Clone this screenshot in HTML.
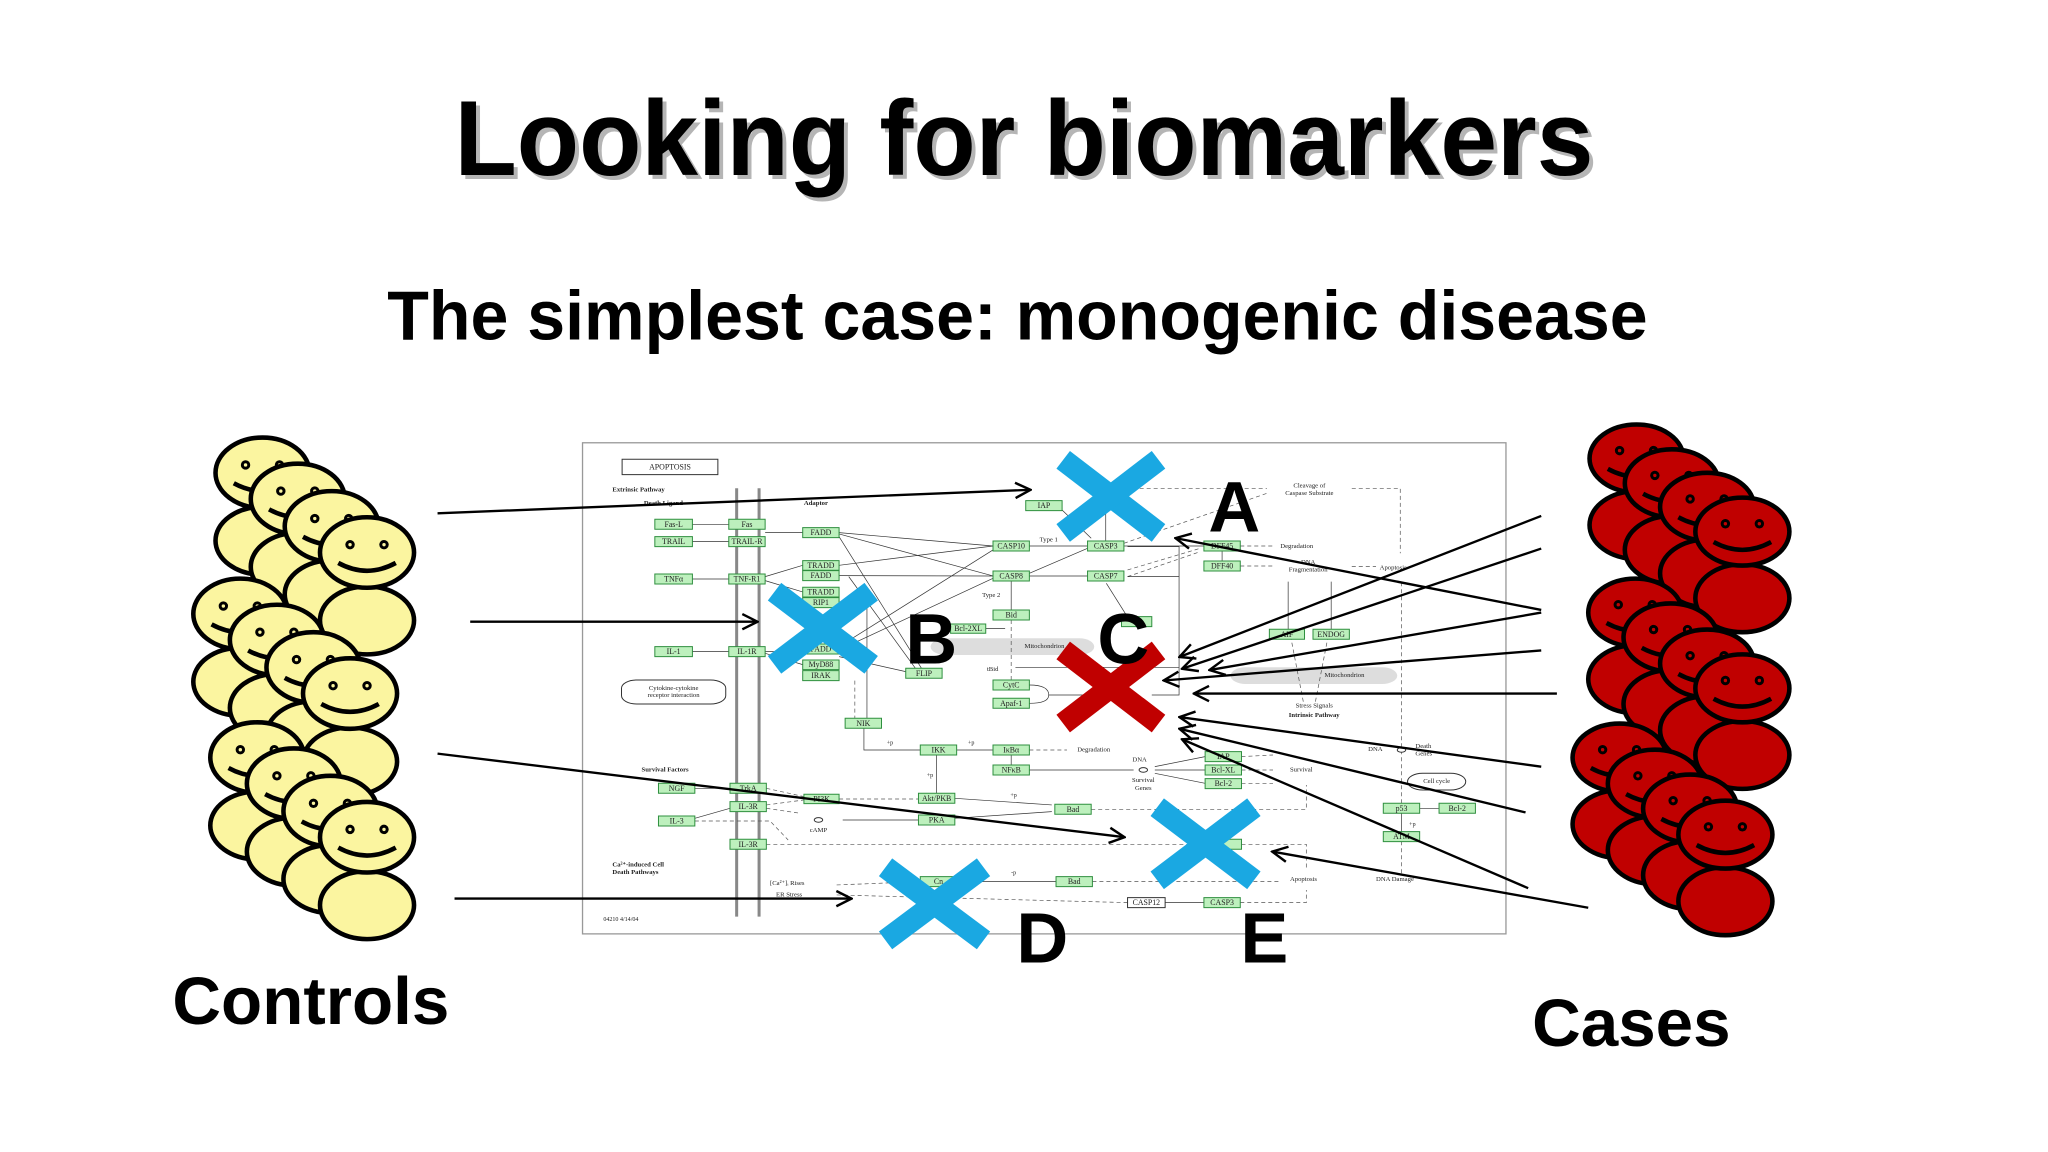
<!DOCTYPE html>
<html><head><meta charset="utf-8"><style>
html,body{margin:0;padding:0;background:#fff;}
svg{display:block;}
.t{font-family:"Liberation Sans",Arial,sans-serif;font-weight:bold;}
.pw rect.n{fill:#bdf0bd;stroke:#2f8f3f;stroke-width:1;vector-effect:non-scaling-stroke;}
.pw text{font-family:"Liberation Serif",serif;font-size:13px;text-anchor:middle;dominant-baseline:central;fill:#222;}
.pw text.l{text-anchor:start;}
.pw text.b{font-weight:bold;}
.pw line,.pw path.e,.pw polyline{stroke:#333;stroke-width:0.7;fill:none;vector-effect:non-scaling-stroke;}
.pw .d{stroke-dasharray:4 3;stroke:#555;}
</style></head><body>
<svg width="2048" height="1152" viewBox="0 0 1568 882" xmlns="http://www.w3.org/2000/svg">
<defs>
<marker id="ah" viewBox="0 0 12 12" refX="11" refY="6" markerWidth="14" markerHeight="14" markerUnits="userSpaceOnUse" orient="auto">
<path d="M1,1 L11,6 L1,11" fill="none" stroke="#000" stroke-width="1.6"/>
</marker>
</defs>
<rect width="1568" height="882" fill="#fff"/>
<!-- Titles -->
<text class="t" x="787" y="137" font-size="82" fill="#b5b5b5" text-anchor="middle" textLength="872" lengthAdjust="spacingAndGlyphs">Looking for biomarkers</text>
<text class="t" x="784" y="134" font-size="82" fill="#000" text-anchor="middle" textLength="872" lengthAdjust="spacingAndGlyphs">Looking for biomarkers</text>
<text class="t" x="779" y="260" font-size="53" fill="#000" text-anchor="middle" textLength="965" lengthAdjust="spacingAndGlyphs">The simplest case: monogenic disease</text>
<text class="t" x="238" y="784" font-size="51" fill="#000" text-anchor="middle" textLength="212" lengthAdjust="spacingAndGlyphs">Controls</text>
<text class="t" x="1249" y="801" font-size="51" fill="#000" text-anchor="middle" textLength="152" lengthAdjust="spacingAndGlyphs">Cases</text>

<!-- Pathway box -->
<rect x="446" y="339" width="707" height="376" fill="#fff" stroke="#999" stroke-width="1"/>
<g class="pw" transform="translate(436.4,329.2) scale(0.464,0.2552)">
 <!-- membranes -->
 <line x1="275" y1="175" x2="275" y2="1460" style="stroke:#888;stroke-width:3"/>
 <line x1="312" y1="175" x2="312" y2="1460" style="stroke:#888;stroke-width:3"/>
 <!-- mitochondrion pills -->
 <rect x="595" y="625" width="270" height="50" rx="25" ry="25" fill="#ddd"/>
 <rect x="1090" y="712" width="275" height="50" rx="25" ry="25" fill="#ddd"/>
 <!-- edges -->
 <line x1="202" y1="283" x2="262" y2="283"/><line x1="202" y1="335" x2="262" y2="335"/>
 <line x1="202" y1="447" x2="262" y2="447"/><line x1="202" y1="665" x2="262" y2="665"/>
 <line x1="322" y1="308" x2="384" y2="308"/><line x1="322" y1="440" x2="384" y2="406"/>
 <line x1="322" y1="452" x2="384" y2="486"/><line x1="322" y1="665" x2="384" y2="665"/>
 <line x1="322" y1="670" x2="384" y2="704"/>
 <line x1="444" y1="308" x2="698" y2="348"/><line x1="444" y1="312" x2="698" y2="438"/>
 <line x1="444" y1="406" x2="698" y2="348"/><line x1="444" y1="437" x2="698" y2="438"/>
 <line x1="444" y1="650" x2="698" y2="360"/><line x1="444" y1="660" x2="698" y2="445"/>
 <line x1="444" y1="320" x2="580" y2="715"/><line x1="460" y1="440" x2="570" y2="715"/>
 <line x1="444" y1="680" x2="554" y2="725"/>
 <line x1="758" y1="348" x2="854" y2="348"/><line x1="758" y1="438" x2="854" y2="438"/>
 <line x1="758" y1="430" x2="854" y2="355"/><line x1="728" y1="453" x2="728" y2="540"/>
 <line class="d" x1="728" y1="570" x2="728" y2="750"/><line x1="1005" y1="712" x2="735" y2="712"/>
 <line x1="686" y1="596" x2="718" y2="596"/>
 <path class="e" d="M758,765 Q790,765 790,795 Q790,820 758,820 M790,795 L860,795"/>
 <line x1="914" y1="348" x2="1046" y2="348"/><line x1="812" y1="240" x2="860" y2="325"/>
 <line x1="884" y1="333" x2="884" y2="200"/>
 <line class="d" x1="940" y1="175" x2="1150" y2="175"/><line class="d" x1="914" y1="340" x2="1150" y2="190"/>
 <line class="d" x1="920" y1="420" x2="1040" y2="355"/><line class="d" x1="920" y1="440" x2="1040" y2="365"/>
 <line class="d" x1="1106" y1="348" x2="1160" y2="348"/><line class="d" x1="1106" y1="408" x2="1160" y2="408"/>
 <line class="d" x1="1290" y1="410" x2="1330" y2="410"/>
 <polyline class="d" points="1290,175 1370,175 1370,370"/>
 <polyline points="920,350 1005,350 1005,795 960,795"/>
 <polyline points="920,440 1005,440"/>
 <line x1="1185" y1="598" x2="1185" y2="455"/><line x1="1256" y1="598" x2="1256" y2="455"/>
 <line x1="1076" y1="363" x2="1076" y2="393"/>
 <line class="d" x1="1210" y1="815" x2="1190" y2="628"/><line class="d" x1="1230" y1="815" x2="1250" y2="628"/>
 <line x1="885" y1="460" x2="930" y2="590"/>
 <line class="d" x1="470" y1="752" x2="470" y2="865"/><line x1="490" y1="500" x2="490" y2="865"/>
 <polyline points="485,895 485,960 578,960"/>
 <line x1="638" y1="960" x2="698" y2="960"/><line class="d" x1="758" y1="960" x2="820" y2="960"/>
 <line x1="728" y1="975" x2="728" y2="1005"/>
 <line x1="758" y1="1020" x2="930" y2="1020"/>
 <line x1="965" y1="1010" x2="1048" y2="980"/><line x1="965" y1="1020" x2="1048" y2="1020"/>
 <line x1="965" y1="1030" x2="1048" y2="1060"/>
 <line class="d" x1="1108" y1="980" x2="1160" y2="975"/><line class="d" x1="1108" y1="1020" x2="1160" y2="1020"/>
 <line class="d" x1="1108" y1="1060" x2="1160" y2="1060"/>
 <line x1="605" y1="1090" x2="605" y2="975"/><line class="d" x1="444" y1="1107" x2="575" y2="1107"/>
 <line x1="635" y1="1105" x2="795" y2="1125"/><line x1="635" y1="1165" x2="795" y2="1145"/>
 <polyline class="d" points="860,1138 1215,1138 1215,1065"/>
 <line class="d" x1="324" y1="1243" x2="1060" y2="1243"/>
 <polyline class="d" points="1108,1243 1215,1243 1215,1320"/>
 <line x1="638" y1="1355" x2="802" y2="1355"/><line class="d" x1="862" y1="1355" x2="1170" y2="1355"/>
 <line class="d" x1="440" y1="1365" x2="578" y2="1355"/>
 <line class="d" x1="440" y1="1395" x2="920" y2="1418"/>
 <line x1="982" y1="1418" x2="1046" y2="1418"/><polyline class="d" points="1106,1418 1215,1418 1215,1380"/>
 <line class="d" x1="1372" y1="1120" x2="1372" y2="460"/><line x1="1372" y1="1205" x2="1372" y2="1150"/>
 <line class="d" x1="1372" y1="1330" x2="1372" y2="1235"/><line x1="1434" y1="1135" x2="1402" y2="1135"/>
 <line x1="206" y1="1075" x2="264" y2="1075"/><line x1="206" y1="1165" x2="264" y2="1135"/>
 <polyline class="d" points="206,1173 330,1173 360,1230"/>
 <line class="d" x1="324" y1="1075" x2="386" y2="1100"/><line class="d" x1="324" y1="1125" x2="386" y2="1110"/>
 <line class="d" x1="324" y1="1135" x2="380" y2="1150"/>
 <line x1="450" y1="1170" x2="575" y2="1170"/>
 <!-- nodes -->
 <rect class="n" x="140" y="268" width="62" height="30"/><text transform="translate(171,283) scale(1,1.818)">Fas-L</text>
 <rect class="n" x="262" y="268" width="60" height="30"/><text transform="translate(292,283) scale(1,1.818)">Fas</text>
 <rect class="n" x="140" y="320" width="62" height="30"/><text transform="translate(171,335) scale(1,1.818)">TRAIL</text>
 <rect class="n" x="262" y="320" width="60" height="30"/><text transform="translate(292,335) scale(1,1.818)">TRAIL-R</text>
 <rect class="n" x="140" y="432" width="62" height="30"/><text transform="translate(171,447) scale(1,1.818)">TNFα</text>
 <rect class="n" x="262" y="432" width="60" height="30"/><text transform="translate(292,447) scale(1,1.818)">TNF-R1</text>
 <rect class="n" x="140" y="650" width="62" height="30"/><text transform="translate(171,665) scale(1,1.818)">IL-1</text>
 <rect class="n" x="262" y="650" width="60" height="30"/><text transform="translate(292,665) scale(1,1.818)">IL-1R</text>
 <rect class="n" x="384" y="293" width="60" height="30"/><text transform="translate(414,308) scale(1,1.818)">FADD</text>
 <rect class="n" x="384" y="392" width="60" height="29"/><text transform="translate(414,406) scale(1,1.818)">TRADD</text>
 <rect class="n" x="384" y="422" width="60" height="30"/><text transform="translate(414,437) scale(1,1.818)">FADD</text>
 <rect class="n" x="384" y="472" width="60" height="29"/><text transform="translate(414,486) scale(1,1.818)">TRADD</text>
 <rect class="n" x="384" y="503" width="60" height="30"/><text transform="translate(414,518) scale(1,1.818)">RIP1</text>
 <rect class="n" x="384" y="642" width="60" height="30"/><text transform="translate(414,657) scale(1,1.818)">FADD</text>
 <rect class="n" x="384" y="690" width="60" height="29"/><text transform="translate(414,704) scale(1,1.818)">MyD88</text>
 <rect class="n" x="384" y="722" width="60" height="30"/><text transform="translate(414,737) scale(1,1.818)">IRAK</text>
 <rect class="n" x="752" y="212" width="60" height="30"/><text transform="translate(782,227) scale(1,1.818)">IAP</text>
 <rect class="n" x="698" y="333" width="60" height="30"/><text transform="translate(728,348) scale(1,1.818)">CASP10</text>
 <rect class="n" x="698" y="423" width="60" height="30"/><text transform="translate(728,438) scale(1,1.818)">CASP8</text>
 <rect class="n" x="854" y="333" width="60" height="30"/><text transform="translate(884,348) scale(1,1.818)">CASP3</text>
 <rect class="n" x="854" y="423" width="60" height="30"/><text transform="translate(884,438) scale(1,1.818)">CASP7</text>
 <rect class="n" x="1046" y="333" width="60" height="30"/><text transform="translate(1076,348) scale(1,1.818)">DFF45</text>
 <rect class="n" x="1046" y="393" width="60" height="30"/><text transform="translate(1076,408) scale(1,1.818)">DFF40</text>
 <rect class="n" x="698" y="540" width="60" height="30"/><text transform="translate(728,555) scale(1,1.818)">Bid</text>
 <rect class="n" x="628" y="582" width="58" height="28"/><text transform="translate(657,596) scale(1,1.818)">Bcl-2XL</text>
 <rect class="n" x="554" y="715" width="60" height="30"/><text transform="translate(584,730) scale(1,1.818)">FLIP</text>
 <rect class="n" x="698" y="750" width="60" height="30"/><text transform="translate(728,765) scale(1,1.818)">CytC</text>
 <rect class="n" x="698" y="805" width="60" height="30"/><text transform="translate(728,820) scale(1,1.818)">Apaf-1</text>
 <rect class="n" x="910" y="560" width="50" height="30"/>
 <rect class="n" x="1154" y="598" width="58" height="30"/><text transform="translate(1183,613) scale(1,1.818)">AIF</text>
 <rect class="n" x="1226" y="598" width="60" height="30"/><text transform="translate(1256,613) scale(1,1.818)">ENDOG</text>
 <rect class="n" x="454" y="865" width="60" height="30"/><text transform="translate(484,880) scale(1,1.818)">NIK</text>
 <rect class="n" x="578" y="945" width="60" height="30"/><text transform="translate(608,960) scale(1,1.818)">IKK</text>
 <rect class="n" x="698" y="945" width="60" height="30"/><text transform="translate(728,960) scale(1,1.818)">IκBα</text>
 <rect class="n" x="698" y="1005" width="60" height="30"/><text transform="translate(728,1020) scale(1,1.818)">NFκB</text>
 <rect class="n" x="1048" y="965" width="60" height="30"/><text transform="translate(1078,980) scale(1,1.818)">IAP</text>
 <rect class="n" x="1048" y="1005" width="60" height="30"/><text transform="translate(1078,1020) scale(1,1.818)">Bcl-XL</text>
 <rect class="n" x="1048" y="1046" width="60" height="30"/><text transform="translate(1078,1061) scale(1,1.818)">Bcl-2</text>
 <rect class="n" x="146" y="1060" width="60" height="30"/><text transform="translate(176,1075) scale(1,1.818)">NGF</text>
 <rect class="n" x="264" y="1060" width="60" height="30"/><text transform="translate(294,1075) scale(1,1.818)">TrkA</text>
 <rect class="n" x="264" y="1115" width="60" height="30"/><text transform="translate(294,1130) scale(1,1.818)">IL-3R</text>
 <rect class="n" x="146" y="1158" width="60" height="30"/><text transform="translate(176,1173) scale(1,1.818)">IL-3</text>
 <rect class="n" x="386" y="1093" width="58" height="28"/><text transform="translate(415,1107) scale(1,1.818)">PI3K</text>
 <rect class="n" x="575" y="1090" width="60" height="30"/><text transform="translate(605,1105) scale(1,1.818)">Akt/PKB</text>
 <rect class="n" x="575" y="1155" width="60" height="30"/><text transform="translate(605,1170) scale(1,1.818)">PKA</text>
 <rect class="n" x="800" y="1123" width="60" height="30"/><text transform="translate(830,1138) scale(1,1.818)">Bad</text>
 <rect class="n" x="264" y="1228" width="60" height="30"/><text transform="translate(294,1243) scale(1,1.818)">IL-3R</text>
 <rect class="n" x="1060" y="1228" width="48" height="30"/>
 <rect class="n" x="578" y="1340" width="60" height="30"/><text transform="translate(608,1355) scale(1,1.818)">Cn</text>
 <rect class="n" x="802" y="1340" width="60" height="30"/><text transform="translate(832,1355) scale(1,1.818)">Bad</text>
 <rect class="n" x="920" y="1403" width="62" height="30" style="fill:#fff;stroke:#333"/><text transform="translate(951,1418) scale(1,1.818)">CASP12</text>
 <rect class="n" x="1046" y="1403" width="60" height="30"/><text transform="translate(1076,1418) scale(1,1.818)">CASP3</text>
 <rect class="n" x="1342" y="1120" width="60" height="30"/><text transform="translate(1372,1135) scale(1,1.818)">p53</text>
 <rect class="n" x="1434" y="1120" width="60" height="30"/><text transform="translate(1464,1135) scale(1,1.818)">Bcl-2</text>
 <rect class="n" x="1342" y="1205" width="60" height="30"/><text transform="translate(1372,1220) scale(1,1.818)">ATM</text>
 <!-- boxes & labels -->
 <rect x="86" y="88" width="158" height="46" fill="#fff" stroke="#333" style="vector-effect:non-scaling-stroke"/>
 <text transform="translate(165,111) scale(1,1.818)">APOPTOSIS</text>
 <rect x="85" y="750" width="172" height="72" rx="25" ry="25" fill="#fff" stroke="#333" style="vector-effect:non-scaling-stroke"/>
 <text transform="translate(171,775) scale(1,1.818)" style="font-size:11px">Cytokine-cytokine</text>
 <text transform="translate(171,797) scale(1,1.818)" style="font-size:11px">receptor interaction</text>
 <rect x="1382" y="1030" width="96" height="50" rx="25" ry="25" fill="#fff" stroke="#333" style="vector-effect:non-scaling-stroke"/>
 <text transform="translate(1430,1055) scale(1,1.818)" style="font-size:11px">Cell cycle</text>
 <text class="l b" transform="translate(70,180) scale(1,1.818)" style="font-size:11px">Extrinsic Pathway</text>
 <text class="l b" transform="translate(122,220) scale(1,1.818)" style="font-size:11px">Death Ligand</text>
 <text class="l b" transform="translate(386,220) scale(1,1.818)" style="font-size:11px">Adaptor</text>
 <text class="l" transform="translate(775,330) scale(1,1.818)" style="font-size:11px">Type 1</text>
 <text class="l" transform="translate(680,497) scale(1,1.818)" style="font-size:11px">Type 2</text>
 <text transform="translate(1220,168) scale(1,1.818)" style="font-size:11px">Cleavage of</text>
 <text transform="translate(1220,190) scale(1,1.818)" style="font-size:11px">Caspase Substrate</text>
 <text class="l" transform="translate(1172,349) scale(1,1.818)" style="font-size:11px">Degradation</text>
 <text transform="translate(1218,397) scale(1,1.818)" style="font-size:11px">DNA</text>
 <text transform="translate(1218,420) scale(1,1.818)" style="font-size:11px">Fragmentation</text>
 <text class="l" transform="translate(1336,414) scale(1,1.818)" style="font-size:11px">Apoptosis</text>
 <text class="l" transform="translate(750,650) scale(1,1.818)" style="font-size:11px">Mitochondrion</text>
 <text class="l" transform="translate(1245,737) scale(1,1.818)" style="font-size:11px">Mitochondrion</text>
 <text class="l" transform="translate(688,718) scale(1,1.818)" style="font-size:11px">tBid</text>
 <text transform="translate(1228,828) scale(1,1.818)" style="font-size:11px">Stress Signals</text>
 <text class="b" transform="translate(1228,857) scale(1,1.818)" style="font-size:11px">Intrinsic Pathway</text>
 <text class="l" transform="translate(837,960) scale(1,1.818)" style="font-size:11px">Degradation</text>
 <text class="l" transform="translate(928,990) scale(1,1.818)" style="font-size:11px">DNA</text>
 <circle cx="946" cy="1020" r="7" fill="#fff" stroke="#333" style="vector-effect:non-scaling-stroke"/>
 <text transform="translate(946,1052) scale(1,1.818)" style="font-size:11px">Survival</text>
 <text transform="translate(946,1075) scale(1,1.818)" style="font-size:11px">Genes</text>
 <text class="l" transform="translate(1188,1020) scale(1,1.818)" style="font-size:11px">Survival</text>
 <text class="l" transform="translate(1317,958) scale(1,1.818)" style="font-size:11px">DNA</text>
 <circle cx="1372" cy="960" r="7" fill="#fff" stroke="#333" style="vector-effect:non-scaling-stroke"/>
 <text class="l" transform="translate(1395,950) scale(1,1.818)" style="font-size:11px">Death</text>
 <text class="l" transform="translate(1395,972) scale(1,1.818)" style="font-size:11px">Genes</text>
 <text class="l b" transform="translate(118,1020) scale(1,1.818)" style="font-size:11px">Survival Factors</text>
 <circle cx="410" cy="1170" r="7" fill="#fff" stroke="#333" style="vector-effect:non-scaling-stroke"/>
 <text transform="translate(410,1202) scale(1,1.818)" style="font-size:11px">cAMP</text>
 <text class="l b" transform="translate(70,1305) scale(1,1.818)" style="font-size:11px">Ca²⁺-induced Cell</text>
 <text class="l b" transform="translate(70,1328) scale(1,1.818)" style="font-size:11px">Death Pathways</text>
 <text class="l" transform="translate(330,1360) scale(1,1.818)" style="font-size:11px">[Ca²⁺]ᵢ Rises</text>
 <text class="l" transform="translate(340,1395) scale(1,1.818)" style="font-size:11px">ER Stress</text>
 <text class="l" transform="translate(1188,1349) scale(1,1.818)" style="font-size:11px">Apoptosis</text>
 <text class="l" transform="translate(1330,1348) scale(1,1.818)" style="font-size:11px">DNA Damage</text>
 <text class="l" transform="translate(55,1470) scale(1,1.818)" style="font-size:10px">04210  4/14/04</text>
 <text transform="translate(528,940) scale(1,1.818)" style="font-size:10px">+p</text>
 <text transform="translate(662,940) scale(1,1.818)" style="font-size:10px">+p</text>
 <text transform="translate(594,1038) scale(1,1.818)" style="font-size:10px">+p</text>
 <text transform="translate(732,1098) scale(1,1.818)" style="font-size:10px">+p</text>
 <text transform="translate(732,1330) scale(1,1.818)" style="font-size:10px">-p</text>
 <text transform="translate(1390,1185) scale(1,1.818)" style="font-size:10px">+p</text>
</g>

<!-- crosses -->
<g stroke-width="17" stroke-linecap="butt">
 <g stroke="#1aa8e2"><line x1="814" y1="352" x2="887" y2="408"/><line x1="887" y1="352" x2="814" y2="408"/></g>
 <g stroke="#1aa8e2"><line x1="593" y1="453" x2="667" y2="509"/><line x1="667" y1="453" x2="593" y2="509"/></g>
 <g stroke="#c00000"><line x1="814" y1="498" x2="887" y2="554"/><line x1="887" y1="498" x2="814" y2="554"/></g>
 <g stroke="#1aa8e2"><line x1="886" y1="618" x2="960" y2="674"/><line x1="960" y1="618" x2="886" y2="674"/></g>
 <g stroke="#1aa8e2"><line x1="678" y1="664" x2="753" y2="720"/><line x1="753" y1="664" x2="678" y2="720"/></g>
</g>
<g class="t" font-size="55" fill="#000" text-anchor="middle">
 <text x="945" y="407">A</text><text x="713" y="508">B</text><text x="860" y="508">C</text>
 <text x="798" y="737">D</text><text x="968" y="737">E</text>
</g>

<!-- arrows -->
<g stroke="#000" stroke-width="1.8" fill="none" marker-end="url(#ah)">
 <line x1="335" y1="393" x2="789" y2="375"/>
 <line x1="360" y1="476" x2="580" y2="476"/>
 <line x1="335" y1="577" x2="861" y2="641"/>
 <line x1="348" y1="688" x2="652" y2="688"/>
 <line x1="1180" y1="467" x2="900" y2="412"/>
 <line x1="1180" y1="395" x2="903" y2="503"/>
 <line x1="1180" y1="420" x2="905" y2="512"/>
 <line x1="1180" y1="469" x2="926" y2="513"/>
 <line x1="1180" y1="498" x2="891" y2="521"/>
 <line x1="1192" y1="531" x2="914" y2="531"/>
 <line x1="1180" y1="587" x2="903" y2="549"/>
 <line x1="1168" y1="622" x2="903" y2="558"/>
 <line x1="1170" y1="680" x2="905" y2="566"/>
 <line x1="1216" y1="695" x2="974" y2="652"/>
</g>

<!-- faces: yellow -->
<defs>
 <g id="py"><ellipse cx="0" cy="52" rx="36" ry="26" fill="#fbf5a0" stroke="#000" stroke-width="3.5"/><ellipse cx="0" cy="0" rx="36" ry="27" fill="#fbf5a0" stroke="#000" stroke-width="3.5"/><circle cx="-13" cy="-6" r="3.6" fill="#000"/><circle cx="13" cy="-6" r="3.6" fill="#000"/><circle cx="-13" cy="-6" r="1.3" fill="#fbf5a0"/><circle cx="13" cy="-6" r="1.3" fill="#fbf5a0"/><path d="M-22,8 Q0,20 22,8" fill="none" stroke="#000" stroke-width="3.5"/></g>
 <g id="pr"><ellipse cx="0" cy="51" rx="36" ry="26" fill="#c00000" stroke="#000" stroke-width="3.5"/><ellipse cx="0" cy="0" rx="36" ry="26" fill="#c00000" stroke="#000" stroke-width="3.5"/><circle cx="-13" cy="-6" r="3.6" fill="#000"/><circle cx="13" cy="-6" r="3.6" fill="#000"/><circle cx="-13" cy="-6" r="1.3" fill="#c00000"/><circle cx="13" cy="-6" r="1.3" fill="#c00000"/><path d="M-22,8 Q0,20 22,8" fill="none" stroke="#000" stroke-width="3.5"/></g>
</defs>
<use href="#py" x="201" y="362"/><use href="#py" x="228" y="382"/><use href="#py" x="254" y="403"/><use href="#py" x="281" y="423"/>
<use href="#py" x="184" y="470"/><use href="#py" x="212" y="490"/><use href="#py" x="240" y="511"/><use href="#py" x="268" y="531"/>
<use href="#py" x="197" y="580"/><use href="#py" x="225" y="600"/><use href="#py" x="253" y="621"/><use href="#py" x="281" y="641"/>
<use href="#pr" x="1253" y="351"/><use href="#pr" x="1280" y="370"/><use href="#pr" x="1307" y="388"/><use href="#pr" x="1334" y="407"/>
<use href="#pr" x="1252" y="469"/><use href="#pr" x="1279" y="488"/><use href="#pr" x="1307" y="508"/><use href="#pr" x="1334" y="527"/>
<use href="#pr" x="1240" y="580"/><use href="#pr" x="1267" y="600"/><use href="#pr" x="1294" y="619"/><use href="#pr" x="1321" y="639"/>
</svg>
</body></html>
